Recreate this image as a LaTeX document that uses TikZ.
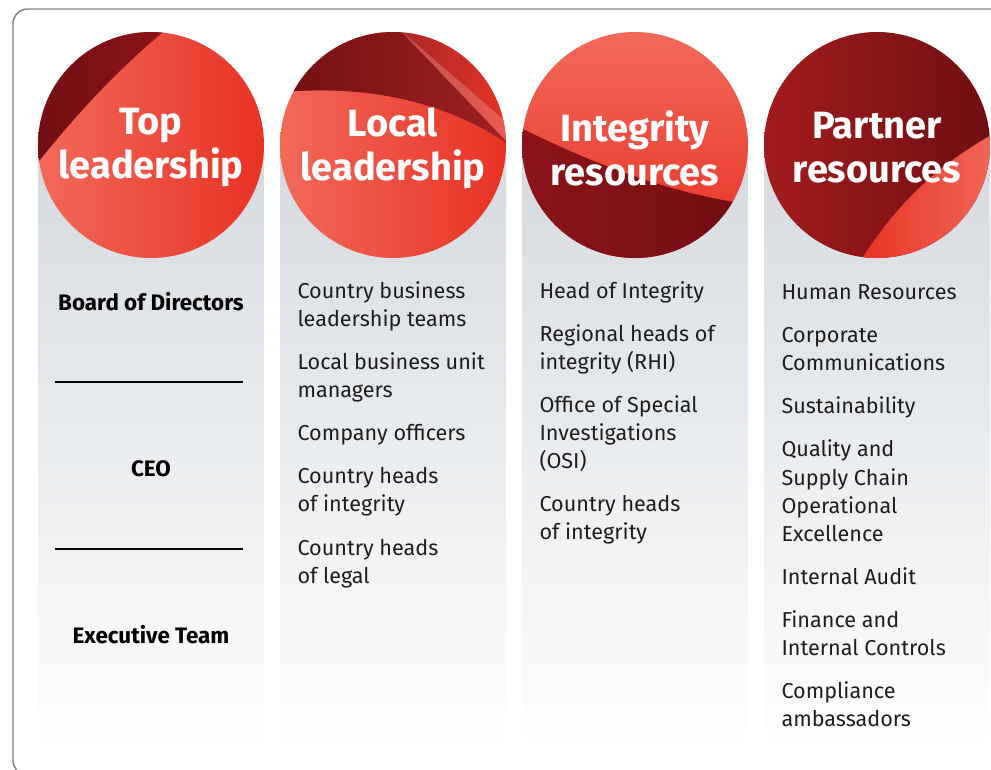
\documentclass[tikz,border=0pt]{standalone}
\usepackage{fontspec}
\setmainfont{Fira Sans}
\usetikzlibrary{positioning}

\definecolor{capred}{RGB}{238,88,70}
\definecolor{capredhi}{RGB}{242,105,90}
\definecolor{capreddeep}{RGB}{232,50,36}
\definecolor{capdark}{RGB}{140,20,26}
\definecolor{capdarker}{RGB}{112,14,18}
\definecolor{colgray}{RGB}{213,218,223}
\definecolor{framegray}{RGB}{130,130,130}
\definecolor{inkgray}{RGB}{30,30,30}

\tikzset{
	head/.style={text=white, font=\bfseries\fontsize{28.5}{33}\selectfont, align=center, inner sep=0},
	item/.style={anchor=north west, align=left, inner sep=0, text=inkgray, font=\fontsize{16.2}{21}\selectfont},
	rank/.style={inner sep=0, text=black, font=\bfseries\fontsize{16.8}{18}\selectfont},
	column/.style={top color=colgray, bottom color=white, draw=none},
	rule/.style={line width=0.9pt, black}}
\tikzset{every picture/.style={line width=0.75pt}}

\begin{document}
\begin{tikzpicture}[x=0.75pt,y=0.75pt,yscale=-1,xscale=1]
	\useasboundingbox (0,0) rectangle (991,769);

	%Outer frame
	\draw [framegray, line width=1.1, rounded corners=11pt] (13,9) rectangle (1010,775);

	%Column backgrounds
	\foreach \cx in {151,393,635,877}
		\fill [column] (\cx-113,145) rectangle (\cx+113,757);

	%Circle: Top leadership
	\begin{scope}
		\clip (151,145) circle [radius=113];
		\shade [left color=capredhi, right color=capreddeep] (38,32) rectangle (264,258);
		\shade [left color=capdarker, right color=capdark] (20,185) .. controls (80,108) and (125,62) .. (178,20) -- (20,20) -- cycle;
	\end{scope}

	%Circle: Local leadership
	\begin{scope}
		\clip (393,145) circle [radius=113];
		\shade [left color=capredhi, right color=capreddeep] (280,32) rectangle (506,258);
		\shade [left color=capdarker, right color=capdark!80!capred] (270,93) .. controls (360,84) and (440,98) .. (510,145) -- (400,30) -- (270,20) -- cycle;
		\shade [left color=capdark!70!capred, right color=capreddeep] (400,30) -- (510,145) -- (510,20) -- cycle;
		\fill [white, opacity=0.2] (400,30) -- (510,145) -- (510,125) -- cycle;
	\end{scope}

	%Circle: Integrity resources
	\begin{scope}
		\clip (635,145) circle [radius=113];
		\shade [top color=capredhi, bottom color=capreddeep] (522,32) rectangle (748,258);
		\shade [left color=capdark, right color=capdarker] (515,125) .. controls (600,168) and (680,196) .. (755,205) -- (755,265) -- (515,265) -- cycle;
	\end{scope}

	%Circle: Partner resources
	\begin{scope}
		\clip (877,145) circle [radius=113];
		\shade [left color=capdark!75!capreddeep, right color=capdarker] (764,32) rectangle (990,258);
		\shade [left color=capreddeep, right color=capredhi] (858,265) .. controls (898,200) and (942,162) .. (1000,130) -- (1000,265) -- cycle;
	\end{scope}

	% Circle titles
	\node [head] (toplead) at (151,148) {Top\\leadership};
	\node [head] (loclead) at (393,148) {Local\\leadership};
	\node [head] (integ) at (635,148) {Integrity\\resources};
	\node [head] (partner) at (877,148) {Partner\\resources};

	% Top leadership ranks
	\node [rank] (board) at (151,302) {Board of Directors};
	\node [rank] (ceo) at (151,469) {CEO};
	\node [rank] (exec) at (151,635) {Executive Team};
	\draw [rule] (55,382) -- (243,382);
	\draw [rule] (55,549) -- (243,549);

	% Local leadership list
	\node [item] (loclist) at (297,281) {Country business\\leadership teams\\[11.4pt]
		Local business unit\\managers\\[11.4pt]
		Company officers\\[11.4pt]
		Country heads\\of integrity\\[11.4pt]
		Country heads\\of legal};

	% Integrity resources list
	\node [item] (integlist) at (539,281) {Head of Integrity\\[11.4pt]
		Regional heads of\\integrity (RHI)\\[11.4pt]
		Office of Special\\Investigations\\(OSI)\\[11.4pt]
		Country heads\\of integrity};

	% Partner resources list
	\node [item] (partlist) at (781,284) {Human Resources\\[11.4pt]
		Corporate\\Communications\\[11.4pt]
		Sustainability\\[11.4pt]
		Quality and\\Supply Chain\\Operational\\Excellence\\[11.4pt]
		Internal Audit\\[11.4pt]
		Finance and\\Internal Controls\\[11.4pt]
		Compliance\\ambassadors};

\end{tikzpicture}
\end{document}
